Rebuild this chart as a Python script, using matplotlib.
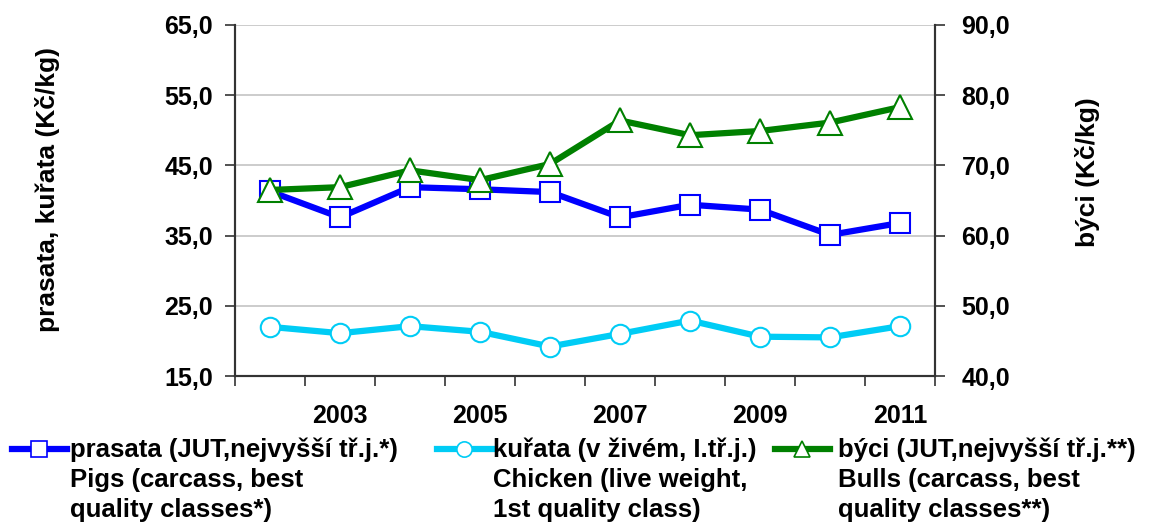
import numpy as np
import matplotlib
matplotlib.use("Agg")
import matplotlib.pyplot as plt
from matplotlib.lines import Line2D

plt.rcParams['font.family'] = ['Liberation Sans', 'DejaVu Sans']
plt.rcParams['font.weight'] = 'bold'

# === Données ===
roky = [2002, 2003, 2004, 2005, 2006, 2007, 2008, 2009, 2010, 2011]
prasata = [41.3, 37.6, 41.9, 41.6, 41.2, 37.6, 39.4, 38.7, 35.1, 36.8]
kurata = [22.0, 21.1, 22.1, 21.3, 19.2, 21.0, 22.9, 20.6, 20.5, 22.1]
byci = [66.5, 66.9, 69.3, 67.9, 70.2, 76.4, 74.3, 74.9, 76.1, 78.3]

leve_ticky = [15, 25, 35, 45, 55, 65]
prave_ticky = [40, 50, 60, 70, 80, 90]

popisky = [
    ["prasata (JUT,nejvyšší tř.j.*)", "Pigs (carcass, best", "quality classes*)"],
    ["kuřata (v živém, I.tř.j.)", "Chicken (live weight,", "1st quality class)"],
    ["býci (JUT,nejvyšší tř.j.**)", "Bulls (carcass, best", "quality classes**)"],
]

c_pig = "#0000FF"
c_chk = "#00CCF5"
c_bul = "#008000"

fig = plt.figure(figsize=(11.55, 5.24), dpi=100)
ax = fig.add_axes([235 / 1155, 1 - 376 / 524, 700 / 1155, 351 / 524])
ax2 = ax.twinx()

x = np.arange(len(roky))

# === Séries ===
ax.plot(x, prasata, color=c_pig, lw=4.5, marker="s", ms=14.5, mfc="white", mec=c_pig, mew=1.5, zorder=3)
ax.plot(x, kurata, color=c_chk, lw=4.5, marker="o", ms=14, mfc="white", mec=c_chk, mew=1.5, zorder=3)
ax2.plot(x, byci, color=c_bul, lw=4.5, marker="^", ms=17, mfc="white", mec=c_bul, mew=1.5, zorder=3)

ax.set_xlim(-0.5, len(roky) - 0.5)
ax.set_ylim(15, 65)
ax2.set_ylim(40, 90)

ax.set_yticks(leve_ticky)
ax.set_yticklabels([f"{v:.1f}".replace(".", ",") for v in leve_ticky])
ax2.set_yticks(prave_ticky)
ax2.set_yticklabels([f"{v:.1f}".replace(".", ",") for v in prave_ticky])

ax.set_xticks(np.arange(-0.5, len(roky)), minor=False)
ax.set_xticklabels([])
ax.set_xticks(x, minor=True)
ax.set_xticklabels([str(r) if r % 2 == 1 else "" for r in roky], minor=True)
ax.tick_params(axis="x", which="minor", length=0, pad=20, labelsize=18)
ax.tick_params(axis="x", which="major", length=7, width=1.2, color="#333333")
ax.tick_params(axis="y", length=7, width=1.2, color="#333333", labelsize=18, pad=9)
ax2.tick_params(axis="y", length=7, width=1.2, color="#333333", labelsize=18, pad=12)

ax.grid(axis="y", color="#C8C8C8", lw=1.3)
ax.set_axisbelow(True)
for a in (ax, ax2):
    a.spines["top"].set_visible(False)
    for s in ("left", "right", "bottom"):
        a.spines[s].set_color("#333333")
        a.spines[s].set_linewidth(1.5)

ax.set_ylabel("prasata, kuřata (Kč/kg)", fontsize=19, fontweight="bold")
ax.yaxis.set_label_coords(-0.25, 0.53)
ax2.set_ylabel("býci (Kč/kg)", fontsize=19, fontweight="bold", rotation=90)
ax2.yaxis.set_label_coords(1.20, 0.58)

# === Légende ===
pozice = [(12, 70), (437, 493), (775, 838)]
styly = [(c_pig, "s", 11), (c_chk, "o", 11), (c_bul, "^", 12)]
for (x0, xt), (c, m, ms), radky in zip(pozice, styly, popisky):
    y0 = 1 - 449 / 524
    xs = [x0 / 1155, (x0 + 27) / 1155, (x0 + 55) / 1155]
    fig.add_artist(Line2D(xs, [y0] * 3, transform=fig.transFigure, color=c, lw=4.5,
                          marker=m, markevery=[1], ms=ms, mfc="white", mec=c, mew=1.2))
    for i, t in enumerate(radky):
        fig.text(xt / 1155, 1 - (450 + 30 * i) / 524, t, fontsize=18.5, fontweight="bold",
                 va="center", ha="left")

fig.savefig("out.png", dpi=100)
